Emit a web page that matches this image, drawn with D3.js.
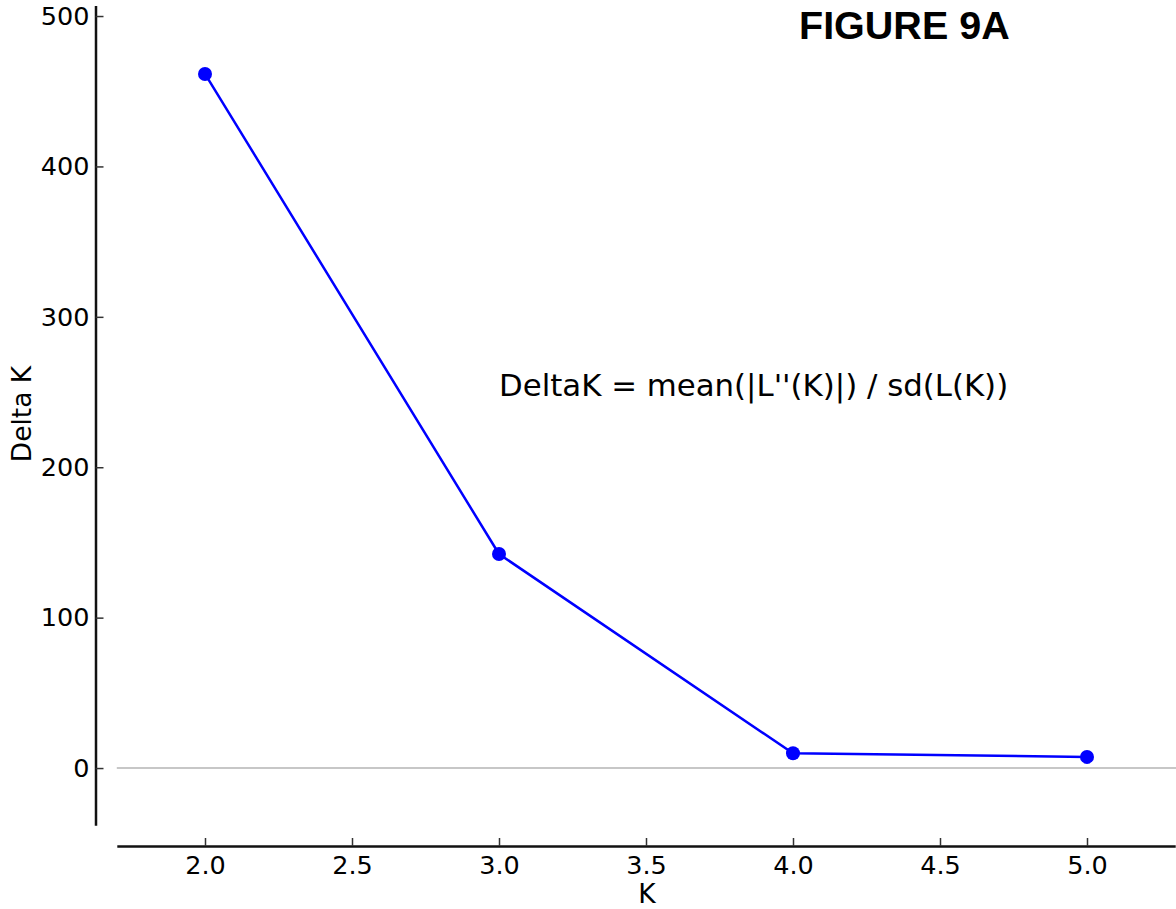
<!DOCTYPE html>
<html>
<head>
<meta charset="utf-8">
<script src="https://cdn.jsdelivr.net/npm/d3@7"></script>
<style>
    body { margin: 0; background: #fff; }
    #chart { width: 1176px; height: 909px; }
    text { font-family: "DejaVu Sans", sans-serif; fill: #000; }
</style>
</head>
<body>
<div id="chart"></div>
<script>

// data
let kValues = [2, 3, 4, 5];
let deltaK = [461.5, 142.3, 9.8, 7.4];
let xTicks = [2.0, 2.5, 3.0, 3.5, 4.0, 4.5, 5.0];
let yTicks = [0, 100, 200, 300, 400, 500];

let width = 1176, height = 909;

let svg = d3.select("#chart").append("svg")
    .attr("width", width)
    .attr("height", height);

// scales (axes offset from the data area, matplotlib style)
let x = d3.scaleLinear()
    .domain([1.7, 5.3])
    .range([116.8, 1175.2]);

let y = d3.scaleLinear()
    .domain([-38, 507])
    .range([825.2, 5.5]);

let ySpineX = 95.5;
let xSpineY = 846;

// zero line
svg.append("line")
    .attr("x1", x(1.7))
    .attr("x2", width)
    .attr("y1", y(0))
    .attr("y2", y(0))
    .style("stroke", "#b4b4b4")
    .style("stroke-width", 1.5);

// y axis
let yAxis = d3.axisLeft(y)
    .tickValues(yTicks)
    .tickFormat(d3.format("d"))
    .tickSizeInner(-8)
    .tickSizeOuter(0)
    .tickPadding(6);

let yG = svg.append("g")
    .attr("transform", `translate(${ySpineX},0)`)
    .call(yAxis);

// x axis
let xAxis = d3.axisBottom(x)
    .tickValues(xTicks)
    .tickFormat(d3.format(".1f"))
    .tickSizeInner(-8)
    .tickSizeOuter(0)
    .tickPadding(10);

let xG = svg.append("g")
    .attr("transform", `translate(0,${xSpineY})`)
    .call(xAxis);

[yG, xG].forEach(g => {
    g.select(".domain").style("stroke", "#111").style("stroke-width", 2.5);
    g.selectAll(".tick line").style("stroke", "#333").style("stroke-width", 1.5);
    g.selectAll(".tick text")
        .style("font-family", "DejaVu Sans")
        .style("font-size", "25.5px")
        .style("fill", "#000");
});

// line + markers
let pts = kValues.map((k, i) => ({k: k, v: deltaK[i]}));

let line = d3.line()
    .x(d => x(d.k))
    .y(d => y(d.v));

svg.append("path")
    .datum(pts)
    .attr("d", line)
    .style("fill", "none")
    .style("stroke", "#0000ff")
    .style("stroke-width", 2.5);

svg.selectAll("circle.pt")
    .data(pts)
    .enter().append("circle")
    .attr("class", "pt")
    .attr("cx", d => x(d.k))
    .attr("cy", d => y(d.v))
    .attr("r", 7)
    .style("fill", "#0000ff");

// labels
svg.append("text")
    .attr("x", 647)
    .attr("y", 903)
    .attr("text-anchor", "middle")
    .style("font-size", "26.5px")
    .text("K");

svg.append("text")
    .attr("transform", "translate(31,414) rotate(-90)")
    .attr("text-anchor", "middle")
    .style("font-size", "26.5px")
    .text("Delta K");

svg.append("text")
    .attr("x", 499)
    .attr("y", 396)
    .style("font-size", "30.8px")
    .text("DeltaK = mean(|L''(K)|) / sd(L(K))");

svg.append("text")
    .attr("x", 799)
    .attr("y", 39)
    .style("font-family", "Liberation Sans, Arial, sans-serif")
    .style("font-weight", "bold")
    .style("font-size", "39.5px")
    .text("FIGURE 9A");

</script>
</body>
</html>
